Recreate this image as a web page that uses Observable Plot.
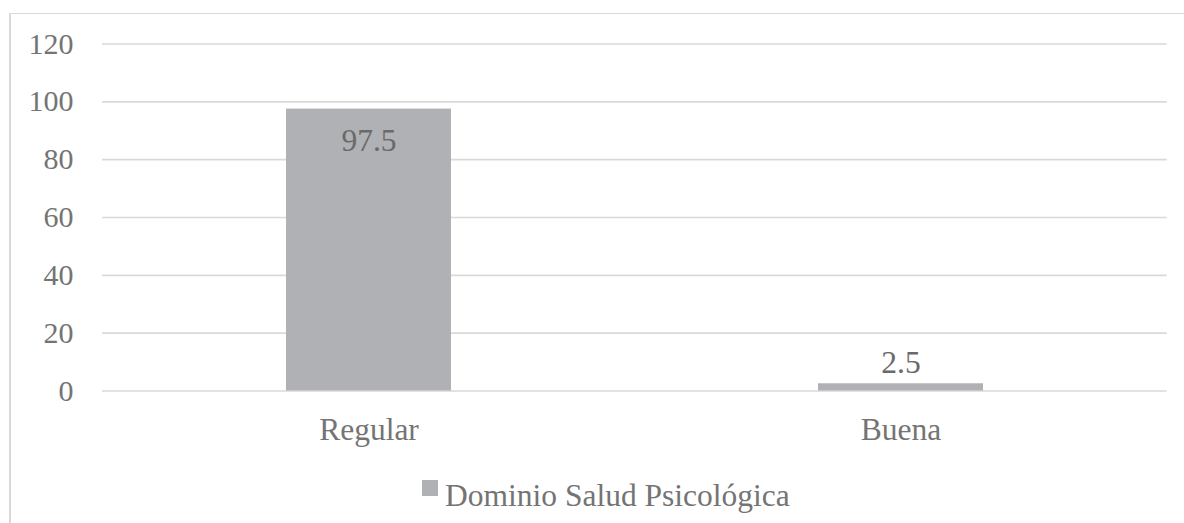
<!DOCTYPE html>
<html>
<head>
<meta charset="utf-8">
<script src="https://cdn.jsdelivr.net/npm/d3@7"></script>
<script src="https://cdn.jsdelivr.net/npm/@observablehq/plot@0.6"></script>
<style>
  html, body { margin: 0; padding: 0; background: #fff; }
  #wrap { position: relative; width: 1184px; height: 523px; overflow: hidden; font-family: 'Liberation Serif', serif; }
  #frame { position: absolute; left: 9px; top: 13px; width: 1300px; height: 600px; border-left: 2px solid #d9d9d9; border-top: 1.5px solid #d9d9d9; box-sizing: border-box; }
  #chart { position: absolute; left: 0; top: 0; }
  #legend-swatch { position: absolute; left: 422px; top: 480px; width: 16px; height: 16px; }
  #legend-text { position: absolute; left: 445px; top: 479.6px; font-size: 31.5px; line-height: 31.5px; color: #747474; white-space: nowrap; font-family: 'Liberation Serif', serif; }
</style>
</head>
<body>
<div id="wrap">
  <div id="frame"></div>
  <div id="chart"></div>
  <div id="legend-swatch"></div>
  <div id="legend-text"></div>
</div>
<script>
const categories = ["Regular", "Buena"];
const values = [97.5, 2.5];
const seriesName = "Dominio Salud Psicológica";
const yTicks = [0, 20, 40, 60, 80, 100, 120];

const barColor = "#b0b1b4";
const textColor = "#747474";
const serifFont = "'Liberation Serif', serif";

const data = categories.map((c, i) => ({category: c, value: values[i]}));

const chart = Plot.plot({
  width: 1184,
  height: 460,
  marginLeft: 102,
  marginRight: 17.3,
  marginTop: 43.5,
  marginBottom: 69.5,
  style: {fontFamily: serifFont, background: "transparent", color: textColor, overflow: "visible"},
  x: {domain: categories, paddingInner: 0.69, paddingOuter: 0.345, label: null},
  y: {domain: [0, 120], label: null},
  marks: [
    Plot.gridY(yTicks, {stroke: "#d9d9d9", strokeOpacity: 1, strokeWidth: 1.6}),
    Plot.barY(data, {x: "category", y: "value", fill: barColor}),
    Plot.axisY(yTicks, {tickSize: 0, tickPadding: 29, fontSize: 30, fill: textColor, label: null}),
    Plot.axisX({tickSize: 0, tickPadding: 27, fontSize: 31.5, fill: textColor, label: null}),
    Plot.text(data.filter(d => d.value > 50), {x: "category", y: "value", text: d => String(d.value), lineAnchor: "top", dy: 19.5, fontSize: 31.5, fill: "#6a6a6a"}),
    Plot.text(data.filter(d => d.value <= 50), {x: "category", y: "value", text: d => String(d.value), lineAnchor: "bottom", dy: -10.6, fontSize: 31.5, fill: "#6a6a6a"})
  ]
});
document.getElementById("chart").appendChild(chart);
document.getElementById("legend-swatch").style.background = barColor;
document.getElementById("legend-text").textContent = seriesName;
</script>
</body>
</html>
